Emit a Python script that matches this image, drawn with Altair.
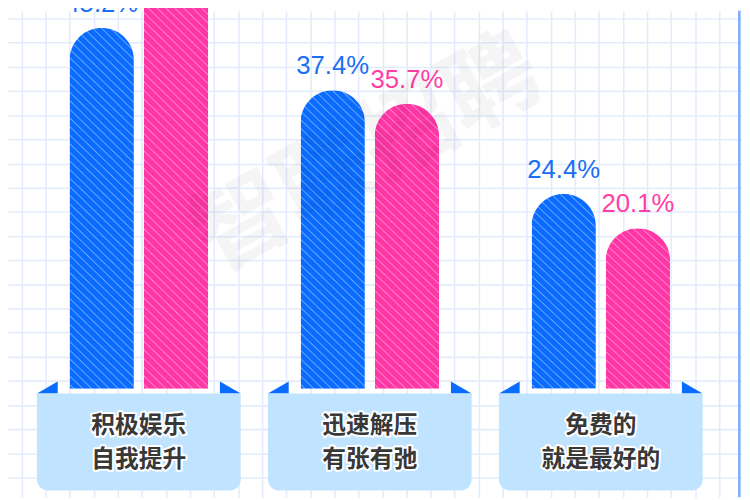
import altair as alt
import pandas as pd

# ---------------- data ----------------
line1 = ["积极娱乐", "迅速解压", "免费的"]
line2 = ["自我提升", "有张有弛", "就是最好的"]
series = ["A", "B"]
blue_vals = [45.2, 37.4, 24.4]
pink_vals = [54.3, 35.7, 20.1]
watermark = ["智联招聘"]

# ---------------- style / layout ----------------
W_TOTAL, H_TOTAL = 742, 492
BASE_Y = 382.2
PX_PER = 8.07
Y_MAX = BASE_Y / PX_PER
BAR_BOTTOM = 395
BAR_W = 65
BLUE, PINK = "#0a6cff", "#ff36a6"
BLUE_LIGHT, PINK_LIGHT = "#6ea8ff", "#ff88ca"
TXT_BLUE, TXT_PINK = "#1a6ff2", "#ff3ea6"
BOX_FILL = "#c0e4ff"
GRID = "#e4ecfc"

rows = []
for i, c in enumerate(line1):
    rows.append({"cat": c, "s": "A", "v": blue_vals[i]})
    rows.append({"cat": c, "s": "B", "v": pink_vals[i]})
df = pd.DataFrame(rows)
df["label"] = df["v"].map(lambda v: f"{v:.1f}%")
cat_df = pd.DataFrame({"cat": line1, "l1": line1, "l2": line2})

xscale = alt.Scale(domain=line1, range=[15.5, 716.0], paddingInner=0, paddingOuter=0)
xoff_scale = alt.Scale(domain=series, paddingInner=10 / 75, paddingOuter=0.6233)
yscale = alt.Scale(domain=[0, Y_MAX], range=[BASE_Y, 0], nice=False, zero=True)


def hatch(base, light, H, W=BAR_W, period=9.0, half=1.3):
    span = W + H
    k = span / (W * W + H * H)
    stops = [{"offset": 0, "color": base}]
    d = -H + period / 2
    while d < W:
        o0 = (d - half + H) / span
        o1 = (d + H) / span
        o2 = (d + half + H) / span
        if o0 > 0 and o2 < 1:
            stops += [
                {"offset": round(o0, 6), "color": base},
                {"offset": round(o1, 6), "color": light},
                {"offset": round(o2, 6), "color": base},
            ]
        d += period
    stops.append({"offset": 1, "color": base})
    return {"gradient": "linear", "x1": 0, "y1": 1, "x2": k * W, "y2": 1 - k * H, "stops": stops}


X = alt.X("cat:N", scale=xscale, axis=None)
XO = alt.XOffset("s:N", scale=xoff_scale)

bar_layers = []
for _, r in df.iterrows():
    top = BASE_Y - r["v"] * PX_PER
    H = BAR_BOTTOM - top
    base, light = (BLUE, BLUE_LIGHT) if r["s"] == "A" else (PINK, PINK_LIGHT)
    layer = (
        alt.Chart(df)
        .transform_filter(f"datum.cat == '{r['cat']}' && datum.s == '{r['s']}'")
        .mark_bar(cornerRadiusTopLeft=BAR_W / 2, cornerRadiusTopRight=BAR_W / 2,
                  color=hatch(base, light, H))
        .encode(x=X, xOffset=XO,
                y=alt.Y("v:Q", scale=yscale, axis=None),
                y2=alt.value(BAR_BOTTOM))
    )
    bar_layers.append(layer)

value_text = (
    alt.Chart(df)
    .mark_text(fontSize=26, font="Liberation Sans", baseline="alphabetic", dy=-16)
    .encode(x=X, xOffset=XO,
            y=alt.Y("v:Q", scale=yscale, axis=None),
            text="label:N",
            color=alt.Color("s:N", scale=alt.Scale(domain=series, range=[TXT_BLUE, TXT_PINK]), legend=None))
)

tri_path = "M-1 0L-0.7961 0L-0.7961 -0.1165Z M0.7961 -0.1165L0.7961 0L1 0Z"
triangles = (
    alt.Chart(cat_df)
    .mark_point(shape=tri_path, size=206 ** 2, filled=True, color=BLUE, opacity=1, strokeWidth=0)
    .encode(x=X, y=alt.value(387))
)

boxes = (
    alt.Chart(cat_df)
    .mark_bar(color=BOX_FILL, width=206, cornerRadiusBottomLeft=11, cornerRadiusBottomRight=11)
    .encode(x=X, y=alt.value(387), y2=alt.value(485))
)


def cat_text(field, ypix):
    halo = (
        alt.Chart(cat_df)
        .mark_text(fontSize=24, font="Noto Sans CJK SC", fontWeight="bold", baseline="middle",
                   fill="#383838", stroke="white", strokeWidth=4, strokeJoin="round")
        .encode(x=X, y=alt.value(ypix), text=f"{field}:N")
    )
    main = (
        alt.Chart(cat_df)
        .mark_text(fontSize=24, font="Noto Sans CJK SC", fontWeight="bold", baseline="middle",
                   fill="#383838")
        .encode(x=X, y=alt.value(ypix), text=f"{field}:N")
    )
    return [halo, main]


wm = (
    alt.Chart(pd.DataFrame({"t": watermark}))
    .mark_text(angle=331, fontSize=96, font="Noto Sans CJK SC", fontWeight="bold",
               color="#000000", opacity=0.035, baseline="middle", align="center")
    .encode(text="t:N", x=alt.value(364), y=alt.value(147))
)

border = (
    alt.Chart(pd.DataFrame({"a": [0]}))
    .mark_rule(color="#7eaefc", strokeWidth=2.6)
    .encode(x=alt.value(739.3), y=alt.value(0), y2=alt.value(H_TOTAL))
)

main = alt.layer(
    *bar_layers, value_text, triangles, boxes,
    *cat_text("l1", 420), *cat_text("l2", 454),
    wm, border,
)

xs_grid = [round(13.7 + 24.32 * k, 2) for k in range(30)]
ys_grid = [round(8.0 + 24.42 * k, 2) for k in range(21)]
grid = (
    alt.Chart(pd.DataFrame({"gx": [0], "gy": [0]}))
    .mark_point(opacity=0)
    .encode(
        x=alt.X("gx:Q", scale=alt.Scale(domain=[0, W_TOTAL], nice=False, zero=False),
                axis=alt.Axis(values=xs_grid, grid=True, labels=False, ticks=False, domain=False,
                              title=None, gridColor=GRID, gridWidth=1.6)),
        y=alt.Y("gy:Q", scale=alt.Scale(domain=[H_TOTAL, 0], nice=False, zero=False),
                axis=alt.Axis(values=ys_grid, grid=True, labels=False, ticks=False, domain=False,
                              title=None, gridColor=GRID, gridWidth=1.6)),
    )
)

chart = (
    alt.layer(grid, main)
    .resolve_scale(x="independent", y="independent")
    .properties(width=W_TOTAL, height=H_TOTAL, padding=0,
                autosize=alt.AutoSizeParams(type="none"), background="white")
    .configure_view(stroke=None)
)

chart.save("out.html", embed_options={"renderer": "svg", "actions": False})
